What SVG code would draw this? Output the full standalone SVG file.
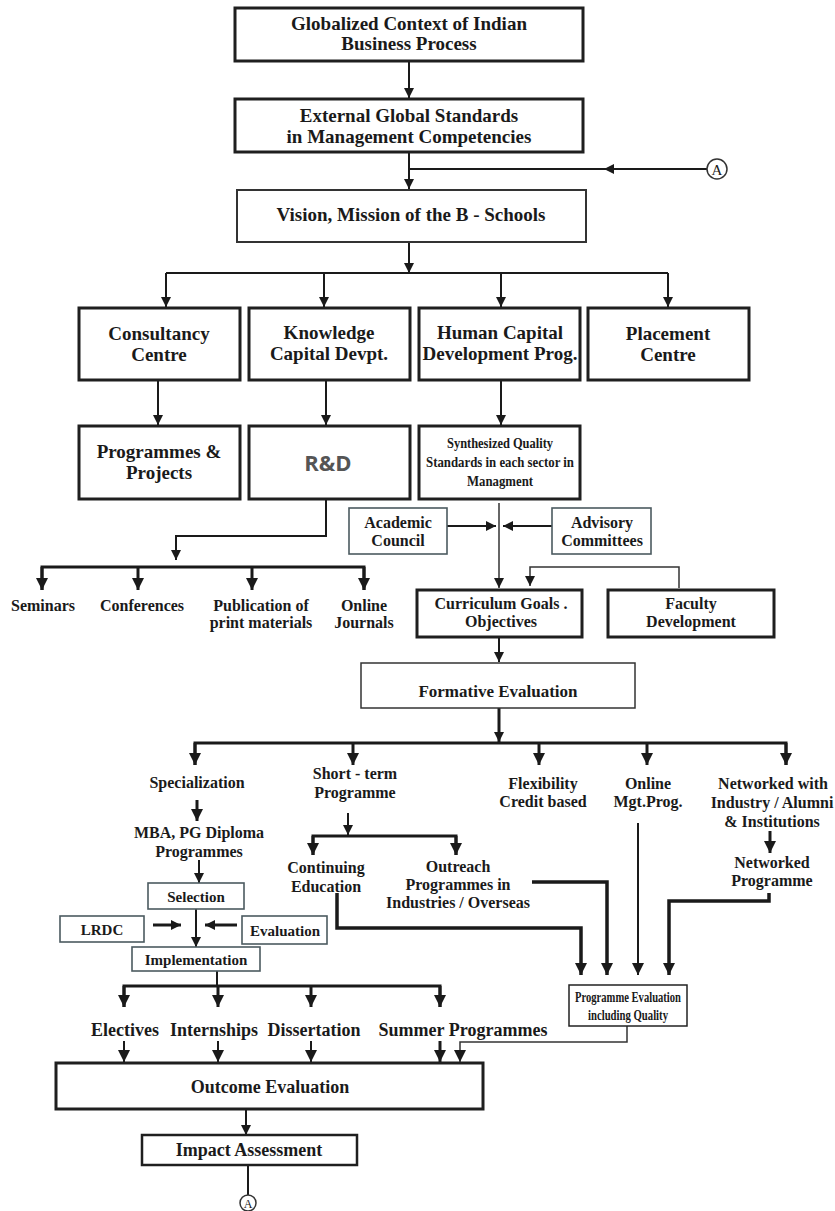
<svg xmlns="http://www.w3.org/2000/svg" width="835" height="1211" viewBox="0 0 835 1211">
<defs>
<marker id="a" markerUnits="userSpaceOnUse" markerWidth="11" markerHeight="10" refX="10" refY="5" orient="auto"><path d="M0,0 L10,5 L0,10 z" fill="#1a1a1a"/></marker>
<marker id="b" markerUnits="userSpaceOnUse" markerWidth="13" markerHeight="12" refX="12" refY="6" orient="auto"><path d="M0,0 L12,6 L0,12 z" fill="#1a1a1a"/></marker>
<style>
text{font-family:"Liberation Serif","Times New Roman",serif;fill:#1a1a1a;text-anchor:middle;font-weight:bold}
.t1{font-size:19px}
.t2{font-size:16px}
.t3{font-size:18px}
.t4{font-size:15px}
.ts{font-size:15.5px}
.tp{font-size:14.5px}
.bx{fill:#fff;stroke:#1f1f1f;stroke-width:3}
.bm{fill:#fff;stroke:#333;stroke-width:2}
.bt{fill:#fff;stroke:#4b5a60;stroke-width:1.6}
.c{fill:none;stroke:#1a1a1a;stroke-width:2}
.k{fill:none;stroke:#1a1a1a;stroke-width:3}
.kk{fill:none;stroke:#1a1a1a;stroke-width:3.5}
.th{fill:none;stroke:#333;stroke-width:1.5}
</style>
</defs>
<rect width="835" height="1211" fill="#fff"/>

<g id="connectors">
<path class="c" d="M409,61 V98" marker-end="url(#a)"/>
<path class="c" d="M409,152 V189" marker-end="url(#a)"/>
<path class="c" d="M409,169 H707"/>
<path class="c" d="M650,169 H604" marker-end="url(#a)"/>
<path class="c" d="M409,242 V273" marker-end="url(#a)"/>
<path class="c" d="M166,273 H668"/>
<path class="c" d="M166,273 V307" marker-end="url(#a)"/>
<path class="c" d="M324,273 V307" marker-end="url(#a)"/>
<path class="c" d="M501,273 V307" marker-end="url(#a)"/>
<path class="c" d="M668,273 V307" marker-end="url(#a)"/>
<path class="c" d="M158,381 V425" marker-end="url(#a)"/>
<path class="c" d="M326,381 V425" marker-end="url(#a)"/>
<path class="c" d="M501,381 V425" marker-end="url(#a)"/>
<path class="c" d="M326,500 V536 H176 V560" marker-end="url(#a)"/>
<path class="k" d="M42,590 V567 H364 V590"/>
<path class="k" d="M42,567 V590" marker-end="url(#b)"/>
<path class="k" d="M138,567 V590" marker-end="url(#b)"/>
<path class="k" d="M252,567 V590" marker-end="url(#b)"/>
<path class="k" d="M364,567 V590" marker-end="url(#b)"/>
<path class="th" d="M499,503 V588" marker-end="url(#a)"/>
<path class="c" d="M447,526 H496" marker-end="url(#a)"/>
<path class="c" d="M552,526 H503" marker-end="url(#a)"/>
<path class="th" d="M679,588 V567 H530 V586" marker-end="url(#a)"/>
<path class="c" d="M499,637 V662" marker-end="url(#a)"/>
<path class="k" d="M499,708 V742" marker-end="url(#a)"/>
<path class="k" d="M195,765 V743 H786 V765"/>
<path class="k" d="M195,743 V765" marker-end="url(#b)"/>
<path class="k" d="M353,743 V765" marker-end="url(#b)"/>
<path class="k" d="M539,743 V765" marker-end="url(#b)"/>
<path class="k" d="M647,743 V765" marker-end="url(#b)"/>
<path class="k" d="M786,743 V765" marker-end="url(#b)"/>
<path class="k" d="M197,800 V821" marker-end="url(#b)"/>
<path class="c" d="M199,860 V883" marker-end="url(#a)"/>
<path class="c" d="M196,909 V947" marker-end="url(#a)"/>
<path class="k" d="M153,925 H181" marker-end="url(#a)"/>
<path class="k" d="M237,925 H205" marker-end="url(#a)"/>
<path class="c" d="M348,813 V835" marker-end="url(#a)"/>
<path class="k" d="M313,855 V836 H456 V855"/>
<path class="k" d="M313,836 V855" marker-end="url(#b)"/>
<path class="k" d="M456,836 V855" marker-end="url(#b)"/>
<path class="k" d="M770,831 V853" marker-end="url(#b)"/>
<path class="kk" d="M337,893 V928 H581 V975" marker-end="url(#b)"/>
<path class="kk" d="M532,882 H607 V975" marker-end="url(#b)"/>
<path class="c" d="M638,823 V975" marker-end="url(#b)"/>
<path class="kk" d="M769,893 V901 H669 V975" marker-end="url(#b)"/>
<path class="c" d="M217,971 V986"/>
<path class="k" d="M124,1007 V986 H440 V1007"/>
<path class="k" d="M124,986 V1007" marker-end="url(#b)"/>
<path class="k" d="M218,986 V1007" marker-end="url(#b)"/>
<path class="k" d="M311,986 V1007" marker-end="url(#b)"/>
<path class="k" d="M440,986 V1007" marker-end="url(#b)"/>
<path class="c" d="M124,1041 V1062" marker-end="url(#b)"/>
<path class="c" d="M218,1041 V1062" marker-end="url(#b)"/>
<path class="c" d="M311,1041 V1062" marker-end="url(#b)"/>
<path class="k" d="M440,1041 V1062" marker-end="url(#b)"/>
<path class="th" d="M627,1026 V1042 H460 V1062" marker-end="url(#b)"/>
<path class="c" d="M246,1109 V1135" marker-end="url(#a)"/>
<path class="c" d="M248,1165 V1195"/>
</g>

<g id="n-globalized"><rect class="bx" x="235" y="8" width="348" height="53"/><text class="t1" x="409" y="30">Globalized Context of Indian</text><text class="t1" x="409" y="50">Business Process</text></g>
<g id="n-external"><rect class="bx" x="235" y="99" width="348" height="53"/><text class="t1" x="409" y="122">External Global Standards</text><text class="t1" x="409" y="143">in Management Competencies</text></g>
<g id="n-a-top"><circle cx="717" cy="169" r="10" fill="#fff" stroke="#333" stroke-width="1.5"/><text x="717" y="174.5" style="font-size:15px;font-weight:normal">A</text></g>
<g id="n-vision"><rect class="bm" x="237" y="190" width="349" height="52"/><text class="t1" x="411" y="221">Vision, Mission of the B - Schools</text></g>

<g id="n-consultancy"><rect class="bx" x="79" y="308" width="161" height="72"/><text class="t1" x="159" y="340">Consultancy</text><text class="t1" x="159" y="361">Centre</text></g>
<g id="n-knowledge"><rect class="bx" x="249" y="308" width="161" height="72"/><text class="t1" x="329" y="339">Knowledge</text><text class="t1" x="329" y="360">Capital Devpt.</text></g>
<g id="n-human"><rect class="bx" x="419" y="308" width="161" height="72"/><text class="t1" x="500" y="339">Human Capital</text><text class="t1" x="500" y="360">Development Prog.</text></g>
<g id="n-placement"><rect class="bx" x="588" y="308" width="161" height="72"/><text class="t1" x="668" y="340">Placement</text><text class="t1" x="668" y="361">Centre</text></g>

<g id="n-programmes"><rect class="bx" x="79" y="426" width="161" height="73"/><text class="t1" x="159" y="458">Programmes &amp;</text><text class="t1" x="159" y="479">Projects</text></g>
<g id="n-rd"><rect class="bx" x="249" y="426" width="161" height="73"/><text x="328" y="471" style="font-family:'Open Sans','DejaVu Sans',sans-serif;font-size:22px;fill:#555">R&amp;D</text></g>
<g id="n-synth"><rect class="bx" x="419" y="426" width="161" height="73"/><text class="ts" x="500" y="448" textLength="106" lengthAdjust="spacingAndGlyphs">Synthesized Quality</text><text class="ts" x="500" y="467" textLength="148" lengthAdjust="spacingAndGlyphs">Standards in each sector in</text><text class="ts" x="500" y="486" textLength="66" lengthAdjust="spacingAndGlyphs">Managment</text></g>

<g id="n-academic"><rect class="bt" x="349" y="508" width="98" height="46"/><text class="t2" x="398" y="528">Academic</text><text class="t2" x="398" y="546">Council</text></g>
<g id="n-advisory"><rect class="bt" x="552" y="508" width="99" height="46"/><text class="t2" x="602" y="528">Advisory</text><text class="t2" x="602" y="546">Committees</text></g>

<g id="n-seminars"><text class="t2" x="43" y="611">Seminars</text></g>
<g id="n-conferences"><text class="t2" x="142" y="611">Conferences</text></g>
<g id="n-publication"><text class="t2" x="261" y="611">Publication of</text><text class="t2" x="261" y="628">print materials</text></g>
<g id="n-online-journals"><text class="t2" x="364" y="611">Online</text><text class="t2" x="364" y="628">Journals</text></g>

<g id="n-curriculum"><rect class="bx" x="417" y="590" width="165" height="47"/><text class="t2" x="501" y="609">Curriculum Goals .</text><text class="t2" x="501" y="627">Objectives</text></g>
<g id="n-faculty"><rect class="bx" x="608" y="590" width="166" height="47"/><text class="t2" x="691" y="609">Faculty</text><text class="t2" x="691" y="627">Development</text></g>
<g id="n-formative"><rect class="th" style="fill:#fff" x="361" y="663" width="274" height="45"/><text class="t2" x="498" y="697" style="font-size:17px">Formative  Evaluation</text></g>

<g id="n-specialization"><text class="t2" x="197" y="788">Specialization</text></g>
<g id="n-shortterm"><text class="t2" x="355" y="779">Short - term</text><text class="t2" x="355" y="798">Programme</text></g>
<g id="n-flexibility"><text class="t2" x="543" y="789">Flexibility</text><text class="t2" x="543" y="807">Credit based</text></g>
<g id="n-online"><text class="t2" x="648" y="789">Online</text><text class="t2" x="648" y="807">Mgt.Prog.</text></g>
<g id="n-networked-with"><text class="t2" x="773" y="789">Networked  with</text><text class="t2" x="772" y="808">Industry / Alumni</text><text class="t2" x="772" y="827">&amp; Institutions</text></g>
<g id="n-mba"><text class="t2" x="199" y="838">MBA, PG Diploma</text><text class="t2" x="199" y="857">Programmes</text></g>
<g id="n-selection"><rect class="bt" x="148" y="883" width="96" height="26"/><text class="t4" x="196" y="902">Selection</text></g>
<g id="n-lrdc"><rect class="bt" x="60" y="916" width="84" height="26"/><text class="t4" x="102" y="935">LRDC</text></g>
<g id="n-evaluation"><rect class="bt" x="242" y="916" width="85" height="28"/><text class="t4" x="285" y="936">Evaluation</text></g>
<g id="n-implementation"><rect class="bt" x="132" y="947" width="128" height="24"/><text class="t4" x="196" y="965">Implementation</text></g>
<g id="n-continuing"><text class="t2" x="326" y="873">Continuing</text><text class="t2" x="326" y="892">Education</text></g>
<g id="n-outreach"><text class="t2" x="458" y="872">Outreach</text><text class="t2" x="458" y="890">Programmes in</text><text class="t2" x="458" y="908">Industries / Overseas</text></g>
<g id="n-networked"><text class="t2" x="772" y="868">Networked</text><text class="t2" x="772" y="886">Programme</text></g>
<g id="n-progeval"><rect class="th" style="fill:#fff;stroke:#222" x="569" y="985" width="118" height="41"/><text class="tp" x="628" y="1002" textLength="106" lengthAdjust="spacingAndGlyphs">Programme Evaluation</text><text class="tp" x="628" y="1020" textLength="80" lengthAdjust="spacingAndGlyphs">including Quality</text></g>

<g id="n-electives"><text class="t3" x="125" y="1036">Electives</text></g>
<g id="n-internships"><text class="t3" x="214" y="1036">Internships</text></g>
<g id="n-dissertation"><text class="t3" x="314" y="1036">Dissertation</text></g>
<g id="n-summer"><text class="t3" x="463" y="1036">Summer Programmes</text></g>
<g id="n-outcome"><rect class="bx" x="56" y="1063" width="427" height="46"/><text class="t3" x="270" y="1093">Outcome Evaluation</text></g>
<g id="n-impact"><rect class="bx" x="142" y="1135" width="215" height="30" style="stroke-width:2.5"/><text class="t3" x="249" y="1156">Impact Assessment</text></g>
<g id="n-a-bottom"><circle cx="248" cy="1203" r="8" fill="#fff" stroke="#333" stroke-width="1.5"/><text x="248" y="1207.5" style="font-size:12px;font-weight:normal">A</text></g>
</svg>
